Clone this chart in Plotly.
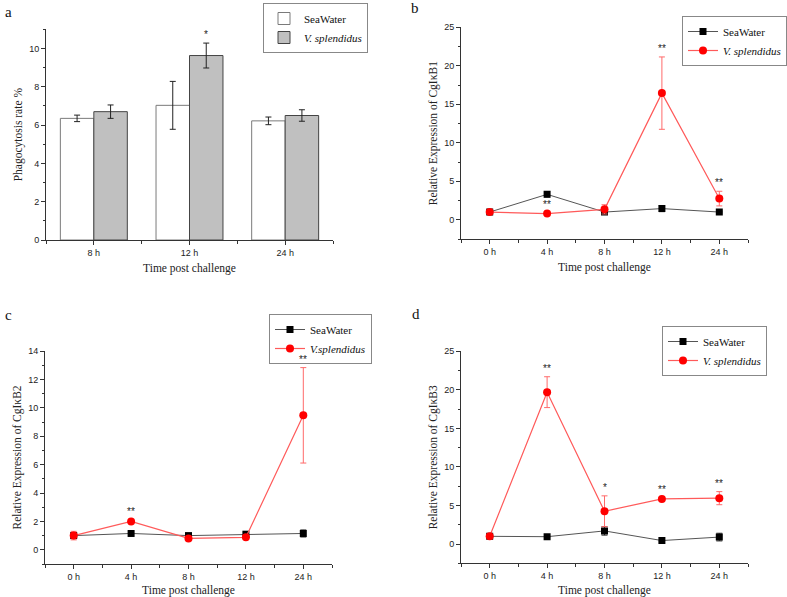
import plotly.graph_objects as go

# ---------------- data ----------------
a_categories = ["8 h", "12 h", "24 h"]
a_seawater = [6.35, 7.03, 6.22]
a_seawater_err = [0.17, 1.25, 0.2]
a_vs = [6.7, 9.63, 6.5]
a_vs_err = [0.35, 0.65, 0.3]
a_sig = ["", "*", ""]

time_labels = ["0 h", "4 h", "8 h", "12 h", "24 h"]

b_sw = [1.0, 3.3, 1.0, 1.45, 1.0]
b_sw_err = [0.1, 0.35, 0.1, 0.4, 0.1]
b_vs = [1.0, 0.8, 1.35, 16.45, 2.75]
b_vs_err = [0.1, 0.1, 0.6, 4.7, 0.95]
b_sig = ["", "**", "", "**", "**"]

c_sw = [1.0, 1.15, 1.0, 1.1, 1.15]
c_sw_err = [0.1, 0.1, 0.1, 0.1, 0.25]
c_vs = [1.0, 2.0, 0.8, 0.88, 9.47]
c_vs_err = [0.3, 0.08, 0.1, 0.08, 3.36]
c_sig = ["", "**", "", "", "**"]

d_sw = [1.0, 0.95, 1.7, 0.45, 0.9]
d_sw_err = [0.1, 0.1, 0.55, 0.1, 0.5]
d_vs = [1.0, 19.7, 4.25, 5.85, 5.95]
d_vs_err = [0.1, 2.0, 2.0, 0.15, 0.85]
d_sig = ["", "**", "*", "**", "**"]

# ---------------- style ----------------
W, H = 787, 597
SERIF = "Liberation Serif"
SANS = "Liberation Sans"
AX = "#333333"
SW_LINE = "#555555"
VS_RED = "#ff0000"
VS_LINE = "#ff5a5a"
BARGAP = 0.3


def px_x(a, b):
    return [a / W, b / W]


def px_y(top, bottom):
    return [1 - bottom / H, 1 - top / H]


fig = go.Figure()

# ---- panel a : bars ----
xa = list(range(len(a_categories)))
fig.add_trace(go.Bar(
    x=xa, y=a_seawater, name="SeaWater",
    marker=dict(color="white", line=dict(color="#7a7a7a", width=1)),
    error_y=dict(type="data", array=a_seawater_err, color="#222", thickness=1, width=3),
    xaxis="x", yaxis="y", legend="legend",
))
fig.add_trace(go.Bar(
    x=xa, y=a_vs, name="<i>V. splendidus</i>",
    marker=dict(color="#c0c0c0", line=dict(color="#444", width=1)),
    error_y=dict(type="data", array=a_vs_err, color="#222", thickness=1, width=3),
    xaxis="x", yaxis="y", legend="legend",
))

annotations = []
bar_off = (1 - BARGAP) / 4
for i, s in enumerate(a_sig):
    if s:
        annotations.append(dict(x=i + bar_off, y=a_vs[i] + a_vs_err[i], xref="x", yref="y",
                                text=s, showarrow=False, yanchor="bottom", yshift=1,
                                font=dict(family=SANS, size=10, color="#222222")))


def add_lines(xr, yr, leg, sw, sw_err, vs, vs_err, sig, vs_name):
    xs = list(range(len(time_labels)))
    fig.add_trace(go.Scatter(
        x=xs, y=sw, name="SeaWater", mode="lines+markers",
        line=dict(color=SW_LINE, width=1),
        marker=dict(symbol="square", size=7, color="black"),
        error_y=dict(type="data", array=sw_err, color="#333", thickness=1, width=3),
        xaxis=xr, yaxis=yr, legend=leg,
    ))
    fig.add_trace(go.Scatter(
        x=xs, y=vs, name=vs_name, mode="lines+markers",
        line=dict(color=VS_LINE, width=1.2),
        marker=dict(symbol="circle", size=8, color=VS_RED),
        error_y=dict(type="data", array=vs_err, color="#ff6a6a", thickness=1, width=3),
        xaxis=xr, yaxis=yr, legend=leg,
    ))
    for i, s in enumerate(sig):
        if s:
            annotations.append(dict(x=i, y=vs[i] + vs_err[i], xref=xr, yref=yr,
                                    text=s, showarrow=False, yanchor="bottom", yshift=1,
                                    font=dict(family=SANS, size=10, color="#222222")))


add_lines("x2", "y2", "legend2", b_sw, b_sw_err, b_vs, b_vs_err, b_sig, "<i>V. splendidus</i>")
add_lines("x3", "y3", "legend3", c_sw, c_sw_err, c_vs, c_vs_err, c_sig, "<i>V.splendidus</i>")
add_lines("x4", "y4", "legend4", d_sw, d_sw_err, d_vs, d_vs_err, d_sig, "<i>V. splendidus</i>")


def xaxis_def(dom, yanchor, labels):
    n = len(labels)
    return dict(
        domain=dom, anchor=yanchor, range=[-0.5, n - 0.5], automargin=False,
        tickmode="array", tickvals=list(range(n)), ticktext=labels,
        showline=True, linecolor=AX, linewidth=1, mirror=False,
        ticks="outside", ticklen=4, tickcolor=AX, tickwidth=1,
        minor=dict(ticks="outside", ticklen=3, tick0=0.5, dtick=1, tickcolor=AX),
        showgrid=False, zeroline=False,
        tickfont=dict(family=SANS, size=9, color="#222"),
        title=dict(text="Time post challenge", font=dict(family=SERIF, size=11.5, color="#222"),
                   standoff=7),
    )


def yaxis_def(dom, xanchor, rng, dtick, title):
    return dict(
        domain=dom, anchor=xanchor, range=rng, automargin=False,
        tick0=0, dtick=dtick,
        showline=True, linecolor=AX, linewidth=1, mirror=False,
        ticks="outside", ticklen=4, tickcolor=AX, tickwidth=1,
        minor=dict(ticks="outside", ticklen=2, tick0=0, dtick=dtick / 2, tickcolor=AX),
        showgrid=False, zeroline=False,
        tickfont=dict(family=SANS, size=9, color="#222"),
        title=dict(text=title, font=dict(family=SERIF, size=11.5, color="#222"), standoff=4),
    )


def legend_def(right, top):
    return dict(
        x=right / W, y=1 - top / H, xanchor="right", yanchor="top",
        bgcolor="white", bordercolor="#888", borderwidth=1,
        font=dict(family=SERIF, size=11, color="#111"),
        tracegroupgap=0, itemwidth=30,
    )


for lab, (lx, ly) in zip(["a", "b", "c", "d"], [(3, 12), (409, 8), (3, 315), (410, 314)]):
    annotations.append(dict(x=lx / W, y=1 - ly / H, xref="paper", yref="paper",
                            text=lab, showarrow=False, xanchor="left", yanchor="middle",
                            font=dict(family=SERIF, size=15, color="#111")))

fig.update_layout(
    template="none",
    font=dict(family=SERIF, size=11, color="#111"),
    width=W, height=H,
    margin=dict(l=0, r=0, t=0, b=0, pad=0),
    paper_bgcolor="white", plot_bgcolor="white",
    barmode="group", bargap=BARGAP, bargroupgap=0,
    xaxis=xaxis_def(px_x(46, 333), "y", a_categories),
    yaxis=yaxis_def(px_y(29.3, 240), "x", [0, 11], 2, "Phagocytosis rate %"),
    xaxis2=xaxis_def(px_x(461, 748), "y2", time_labels),
    yaxis2=yaxis_def(px_y(27.3, 239), "x2", [-2.5, 25], 5, "Relative Expression of CgIκB1"),
    xaxis3=xaxis_def(px_x(45, 332), "y3", time_labels),
    yaxis3=yaxis_def(px_y(351, 564), "x3", [-1, 14], 2, "Relative Expression of CgIκB2"),
    xaxis4=xaxis_def(px_x(461, 748), "y4", time_labels),
    yaxis4=yaxis_def(px_y(351.3, 563.3), "x4", [-2.5, 25], 5, "Relative Expression of CgIκB3"),
    legend=legend_def(368, 3),
    legend2=legend_def(787, 16),
    legend3=legend_def(372, 314),
    legend4=legend_def(767, 326),
    annotations=annotations,
    showlegend=True,
)

# remove the browser's default 8px page margin so the figure sits at the window origin
fig.write_html("out.html", config={"displayModeBar": False},
               post_script="document.body.style.margin='0';")
